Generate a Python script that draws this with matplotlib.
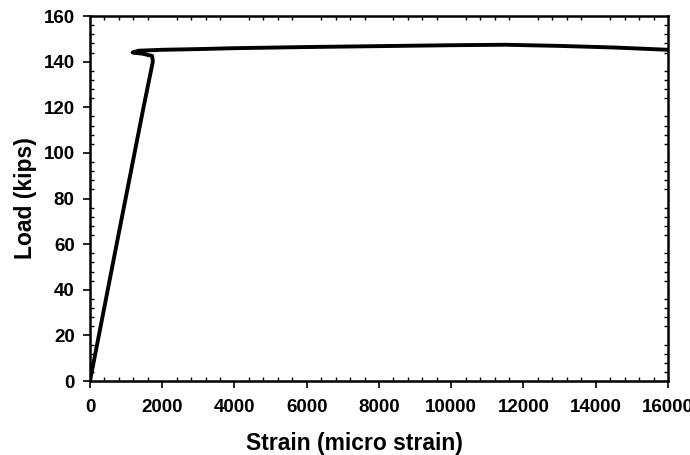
import matplotlib.pyplot as plt
from matplotlib.ticker import MultipleLocator

# Load vs strain
strain = [0, 800, 1470, 1740, 1720, 1450, 1180, 1350, 1700, 2000, 3000, 4000,
          6000, 8000, 10000, 11500, 13000, 14500, 16000]  # [micro strain]
load = [0, 65, 119, 140, 142.5, 143.5, 144, 144.8, 145, 145.2, 145.5, 145.9,
        146.4, 146.8, 147.2, 147.4, 146.9, 146.2, 145.2]  # [kips]

plt.rcParams['font.family'] = ['Liberation Sans', 'DejaVu Sans']
plt.rcParams['font.weight'] = 'bold'

fig = plt.figure(figsize=(6.9, 4.55), dpi=100)
ax = fig.add_axes([0.1304, 0.1626, 0.8377, 0.8022])

ax.plot(strain, load, color='black', lw=2.8, solid_joinstyle='round')

ax.set_xlim(0, 16000)
ax.set_ylim(0, 160)
ax.xaxis.set_major_locator(MultipleLocator(2000))
ax.xaxis.set_minor_locator(MultipleLocator(400))
ax.yaxis.set_major_locator(MultipleLocator(20))
ax.yaxis.set_minor_locator(MultipleLocator(4))
# major ticks outside on left/bottom only, minor ticks inside on all four sides
ax.tick_params(which='major', direction='out', length=5, width=1.2,
               labelsize=13.5, top=False, right=False)
ax.tick_params(axis='x', which='major', pad=8)
ax.tick_params(axis='y', which='major', pad=6)
ax.tick_params(which='minor', direction='in', length=3, width=1,
               top=True, right=True)
for s in ax.spines.values():
    s.set_linewidth(1.8)

ax.set_xlabel('Strain (micro strain)', fontsize=16.5, fontweight='bold')
ax.set_ylabel('Load (kips)', fontsize=16.5, fontweight='bold', labelpad=5)
ax.xaxis.set_label_coords(0.458, -0.14)

fig.savefig('out.png', dpi=100)
